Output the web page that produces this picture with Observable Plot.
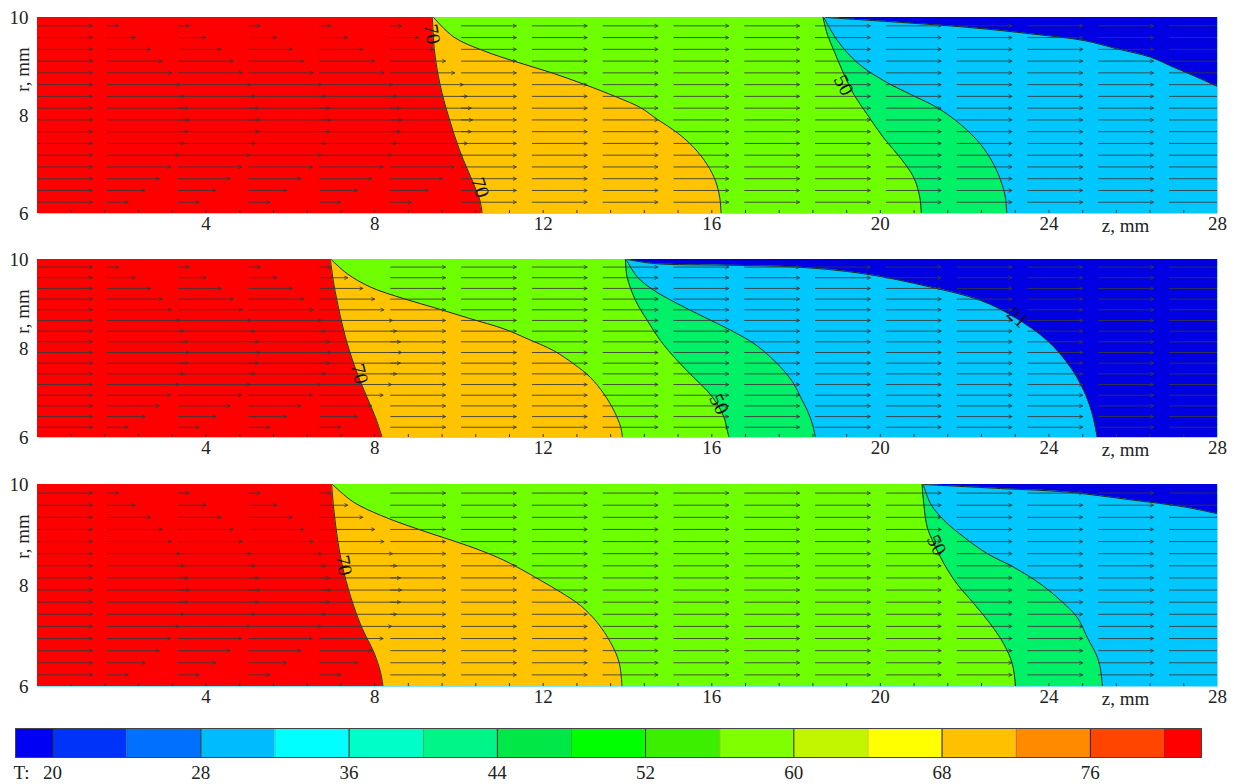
<!DOCTYPE html>
<html>
<head>
<meta charset="utf-8">
<script src="https://cdn.jsdelivr.net/npm/d3@7"></script>
<script src="https://cdn.jsdelivr.net/npm/@observablehq/plot@0.6"></script>
<style>
  body { margin: 0; background: #fff; }
  #chart { position: relative; width: 1234px; height: 784px; overflow: hidden; }
  #chart svg { position: absolute; left: 0; }
  #chart svg, #chart svg text { font-family: "Liberation Serif", "Times New Roman", serif !important; }
</style>
</head>
<body>
<div id="chart"></div>
<script>
// ---------------- DATA ----------------
// axes
const zTickLabels = [4, 8, 12, 16, 20, 24, 28];
const rTickLabels = [6, 8, 10];

// velocity vectors: column positions (z, mm), row positions (r, mm)
const arrowColumnsZ = [0, 1.66, 3.34, 5.02, 6.70, 8.38, 10.06, 11.74, 13.42, 15.10, 16.78, 18.46, 20.14, 21.82, 23.50, 25.18, 26.86];
const arrowRowsR = [6.23, 6.47, 6.71, 6.95, 7.19, 7.43, 7.67, 7.91, 8.15, 8.39, 8.63, 8.87, 9.11, 9.35, 9.59, 9.83];
// vector lengths (mm): hot-zone profile (by row, r ascending) and uniform length
const uHot = [0.49, 0.89, 1.23, 1.50, 1.70, 1.82, 1.91, 1.94, 1.91, 1.82, 1.72, 1.52, 1.30, 1.02, 0.66, 0.26];
const uFlat = 1.30;
const hotColumns = [5, 4, 4]; // number of profiled columns after the inlet column, per panel

// isotherms, [r, z] pairs (panel 1)
const P1_T70 = [[6.0,10.55],[6.26,10.50],[6.60,10.35],[7.28,10.02],[7.96,9.76],[8.64,9.55],[9.32,9.42],[10.0,9.37]];
const P1_T60 = [[6.0,16.22],[6.32,16.19],[6.66,16.09],[7.00,15.89],[7.34,15.58],[7.65,15.18],[7.92,14.71],[8.16,14.31],[8.37,13.76],[8.64,12.96],[8.88,12.17],[9.10,11.34],[9.32,10.59],[9.60,9.88],[10.0,9.40]];
const P1_T50 = [[6.0,20.97],[6.31,20.94],[6.72,20.80],[7.13,20.48],[7.54,20.08],[8.02,19.69],[8.43,19.37],[8.91,19.10],[9.32,18.90],[9.66,18.74],[10.0,18.64]];
const P1_T40 = [[6.0,23.0],[6.31,22.97],[6.59,22.89],[7.00,22.69],[7.41,22.38],[7.82,21.90],[8.16,21.35],[8.43,20.72],[8.71,20.08],[9.08,19.45],[9.53,18.98],[10.0,18.66]];
// 21-isotherm as [z, r] pairs
const P1_T21 = [[18.70,10.0],[20.48,9.90],[22.06,9.80],[23.64,9.66],[24.83,9.53],[25.62,9.36],[26.41,9.19],[26.97,8.98],[27.44,8.81],[28.0,8.59]];

// panel 2
const P2_T70 = [[6.0,8.18],[6.45,8.02],[6.90,7.82],[7.43,7.59],[8.11,7.35],[8.71,7.19],[9.46,7.03],[10.0,6.95]];
const P2_T60 = [[6.0,13.88],[6.23,13.84],[6.60,13.68],[6.98,13.44],[7.35,13.12],[7.65,12.73],[7.95,12.25],[8.22,11.62],[8.44,11.07],[8.67,10.27],[8.90,9.48],[9.12,8.69],[9.38,7.90],[9.68,7.35],[10.0,6.97]];
const P2_T50 = [[6.0,16.41],[6.15,16.37],[6.45,16.29],[6.75,16.13],[7.05,15.89],[7.35,15.57],[7.73,15.18],[8.18,14.78],[8.63,14.47],[9.08,14.19],[9.61,13.99],[10.0,13.95]];
const P2_T40 = [[6.0,18.46],[6.30,18.39],[6.60,18.27],[6.90,18.11],[7.20,17.95],[7.50,17.71],[7.80,17.40],[8.11,17.00],[8.41,16.45],[8.71,15.81],[9.01,15.18],[9.31,14.62],[9.61,14.23],[10.0,13.97]];
// 21-isotherm as [r, z] pairs
const P2_T21 = [[6.0,25.15],[6.53,25.03],[7.05,24.83],[7.58,24.51],[8.18,23.96],[8.71,23.17],[9.08,22.38],[9.38,21.19],[9.68,19.61],[9.83,18.03],[9.87,16.45],[9.91,14.62],[10.0,14.0]];

// panel 3
const P3_T70 = [[6.0,8.20],[6.28,8.14],[6.68,7.98],[7.14,7.71],[7.60,7.50],[8.26,7.27],[8.86,7.13],[9.52,7.03],[10.0,6.98]];
const P3_T60 = [[6.0,13.87],[6.48,13.80],[6.87,13.60],[7.27,13.28],[7.60,12.89],[7.87,12.41],[8.10,11.94],[8.33,11.46],[8.56,10.91],[8.79,10.20],[8.99,9.48],[9.19,8.77],[9.39,8.14],[9.65,7.50],[10.0,7.0]];
const P3_T50 = [[6.0,23.21],[6.45,23.13],[6.84,22.93],[7.24,22.61],[7.64,22.22],[8.03,21.82],[8.43,21.51],[8.83,21.27],[9.16,21.11],[9.62,21.03],[10.0,20.99]];
const P3_T40 = [[6.0,25.27],[6.31,25.23],[6.58,25.15],[6.97,24.91],[7.37,24.67],[7.70,24.28],[8.03,23.80],[8.36,23.17],[8.63,22.54],[8.96,21.98],[9.29,21.51],[9.62,21.19],[10.0,21.02]];
// 21-isotherm as [z, r] pairs
const P3_T21 = [[21.04,10.0],[22.85,9.92],[24.43,9.85],[26.0,9.69],[27.19,9.56],[28.0,9.42]];

// isotherm labels: text, z, r, angle
const P1_LABELS = [{t:"70", z:9.36, r:9.66, a:80}, {t:"70", z:10.50, r:6.53, a:72}, {t:"50", z:19.13, r:8.62, a:62}];
const P2_LABELS = [{t:"70", z:7.64, r:7.43, a:76}, {t:"50", z:16.17, r:6.75, a:64}, {t:"21", z:23.25, r:8.70, a:42}];
const P3_LABELS = [{t:"70", z:7.27, r:8.40, a:80}, {t:"50", z:21.33, r:8.80, a:63}];

// colour legend
const legendEdges = [18, 20, 24, 28, 32, 36, 40, 44, 48, 52, 56, 60, 64, 68, 72, 76, 80, 82];
const legendColors = ["#0000F2", "#0033FA", "#0070FF", "#00BCFF", "#00FFFF", "#00FFC8", "#00F588", "#00E848", "#00FF00", "#3CEE00", "#7FFF00", "#C2F500", "#FFFF00", "#FFC000", "#FF8A00", "#FF4500", "#FF0000"];
const legendLabels = [20, 28, 36, 44, 52, 60, 68, 76];

// ---------------- DRAWING ----------------
const FONT = "Liberation Serif";
const COL = {t70: "#FF0000", t60: "#FFC300", t50: "#6EFF00", t40: "#00F068", light: "#00C8FF", cold: "#0000E2"};
const LINE = "#1c2a1c";
const CURVE = "catmull-rom";
const fmt = d => String(d);
const FS = 19;

const panels = [
  {t70: P1_T70, t60: P1_T60, t50: P1_T50, t40: P1_T40, t21: P1_T21, t21zr: true, labels: P1_LABELS, hot: hotColumns[0], top: 0, mt: 17, ph: 196, mb: 24},
  {t70: P2_T70, t60: P2_T60, t50: P2_T50, t40: P2_T40, t21: P2_T21, t21zr: false, labels: P2_LABELS, hot: hotColumns[1], top: 237, mt: 22, ph: 178, mb: 24},
  {t70: P3_T70, t60: P3_T60, t50: P3_T50, t40: P3_T40, t21: P3_T21, t21zr: true, labels: P3_LABELS, hot: hotColumns[2], top: 461, mt: 23, ph: 202, mb: 24}
];

const minorZ = d3.range(0.8, 27.9, 0.8);
const chart = document.getElementById("chart");

function drawPanel(p) {
  const arrows = [];
  arrowColumnsZ.forEach((z, c) => {
    arrowRowsR.forEach((r, i) => {
      const len = (c >= 1 && c <= p.hot) ? uHot[i] : uFlat;
      arrows.push({z, r, len});
    });
  });
  const leftFill = (data, fill) => Plot.areaX(data, {y: d => d[0], x1: 0, x2: d => d[1], fill, curve: CURVE, clip: true});
  const iso = (data) => Plot.line(data, {x: d => d[1], y: d => d[0], stroke: LINE, strokeWidth: 1, curve: CURVE, clip: true});
  const cold = p.t21zr
    ? Plot.areaY(p.t21, {x: d => d[0], y1: d => d[1], y2: 10, fill: COL.cold, curve: CURVE, clip: true})
    : Plot.areaX(p.t21, {y: d => d[0], x1: d => d[1], x2: 28, fill: COL.cold, curve: CURVE, clip: true});
  const coldLine = p.t21zr
    ? Plot.line(p.t21, {x: d => d[0], y: d => d[1], stroke: LINE, strokeWidth: 1, curve: CURVE, clip: true})
    : iso(p.t21);
  const svg = Plot.plot({
    width: 1234,
    height: p.mt + p.ph + p.mb,
    marginTop: p.mt, marginBottom: p.mb, marginLeft: 37, marginRight: 17,
    x: {domain: [0, 28], axis: null},
    y: {domain: [6, 10], axis: null},
    style: {fontFamily: FONT, fontSize: FS + "px", color: "#222", background: "transparent", overflow: "visible"},
    marks: [
      Plot.frame({fill: COL.light}),
      cold,
      leftFill(p.t40, COL.t40),
      leftFill(p.t50, COL.t50),
      leftFill(p.t60, COL.t60),
      leftFill(p.t70, COL.t70),
      coldLine, iso(p.t40), iso(p.t50), iso(p.t60), iso(p.t70),
      Plot.arrow(arrows, {x1: "z", y1: "r", x2: d => d.z + d.len, y2: "r", stroke: "#383838", strokeOpacity: 0.85, strokeWidth: 1, headLength: 5, headAngle: 55, clip: true}),
      Plot.text(p.labels, {x: "z", y: "r", text: "t", rotate: "a", fontSize: 20, fill: "#111", fontFamily: FONT}),
      Plot.tickX(minorZ, {x: d => d, insetTop: p.ph - 3, stroke: "#333", strokeWidth: 1}),
      Plot.axisX(zTickLabels, {tickSize: 0, tickPadding: 3, label: null, tickFormat: fmt, fontSize: FS, fill: "#222", fontFamily: FONT}),
      Plot.axisY(rTickLabels, {tickSize: 0, tickPadding: 9, label: null, tickFormat: fmt, fontSize: FS, fill: "#222", fontFamily: FONT}),
      Plot.text(["z, mm"], {frameAnchor: "bottom-right", dx: -92, dy: 12, lineAnchor: "middle", textAnchor: "middle", fontSize: FS, fill: "#222", fontFamily: FONT}),
      Plot.text(["r, mm"], {frameAnchor: "top-left", dx: -15, dy: 52, rotate: -90, textAnchor: "middle", lineAnchor: "middle", fontSize: 19, fill: "#222", fontFamily: FONT, style: "letter-spacing:3px"})
    ]
  });
  svg.style.top = p.top + "px";
  chart.appendChild(svg);
}
panels.forEach(drawPanel);

// colour bar
const legendBins = legendColors.map((c, i) => ({lo: legendEdges[i], hi: legendEdges[i + 1], c}));
const minorEdges = legendEdges.slice(1, -1).filter(v => !legendLabels.includes(v));
const legend = Plot.plot({
  width: 1234, height: 74,
  marginTop: 18, marginBottom: 27, marginLeft: 15, marginRight: 33,
  x: {domain: [18, 82], axis: null},
  style: {fontFamily: FONT, fontSize: FS + "px", color: "#222", background: "transparent"},
  marks: [
    Plot.rect(legendBins, {x1: "lo", x2: "hi", fill: "c"}),
    Plot.ruleX(minorEdges, {stroke: "#333", strokeOpacity: 0.3}),
    Plot.ruleX(legendLabels, {stroke: "#222", strokeWidth: 1}),
    Plot.frame({stroke: "#444"}),
    Plot.axisX(legendLabels, {tickSize: 0, tickPadding: 8, label: null, tickFormat: fmt, fontSize: FS, fill: "#222", fontFamily: FONT}),
    Plot.text(["T:"], {frameAnchor: "bottom-left", dx: 6, dy: 8, lineAnchor: "top", textAnchor: "middle", fontSize: FS, fill: "#222", fontFamily: FONT})
  ]
});
legend.style.top = "710px";
chart.appendChild(legend);
</script>
</body>
</html>
